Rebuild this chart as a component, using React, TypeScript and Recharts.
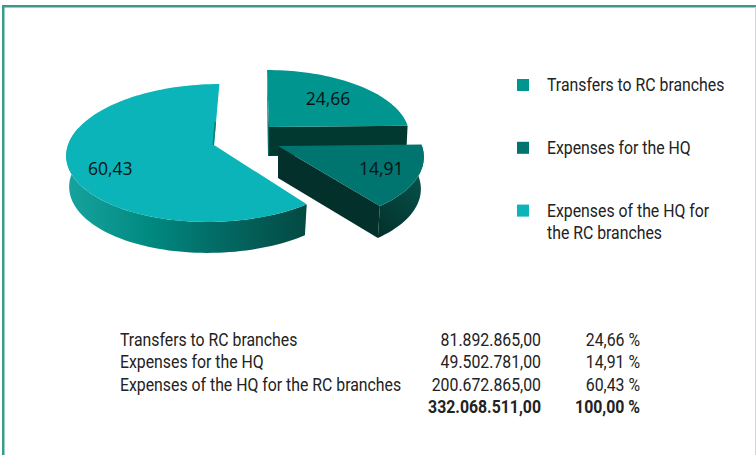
import React from "react";
import { PieChart, Pie, Legend } from "recharts";

const categories = ["Transfers to RC branches", "Expenses for the HQ", "Expenses of the HQ for the RC branches"];
const amounts = [81892865, 49502781, 200672865];
const amountLabels = ["81.892.865,00", "49.502.781,00", "200.672.865,00"];
const shares = ["24,66", "14,91", "60,43"];
const totalLabel = "332.068.511,00";
const totalShare = "100,00";
const colors = ["#00958f", "#00746e", "#0ab4b9"];

const W = 756;
const H = 455;
const FONT = "Roboto, sans-serif";
const INK = "#222222";
const PERSP = 0.116;
const SQUEEZE = 0.88;

// Per-slice projection of the flat pie into the tilted view
const views = [
  { dx: 55, dy: -18, rx: 139, ry: 63.6, shear: 2.2, depth: 29, labelR: 0.65, labelDy: 0 },
  { dx: 64, dy: 1, rx: 144, ry: 68.7, shear: 6, depth: 32, labelR: 0.75, labelDy: 0 },
  { dx: 0, dy: 0, rx: 146, ry: 68, shear: -6, depth: 31, labelR: 0.72, labelDy: 8 },
];

const rad = (d: number) => (d * Math.PI) / 180;

function project(v: (typeof views)[number], cx: number, cy: number, theta: number, r = 1) {
  const a = rad(theta);
  const u = r * Math.sin(a);
  const w = -r * Math.cos(a);
  const k = 1 - PERSP * w;
  return { x: cx + v.dx + (v.rx * u + v.shear * w) / k, y: cy + v.dy + (v.ry * w) / k };
}

const down = (p: { x: number; y: number }, d: number, ax: number, shrink = 0.98) => ({
  x: ax + (p.x - ax) * shrink,
  y: p.y + d,
});

const toPath = (pts: { x: number; y: number }[]) =>
  pts.map((p, i) => `${i ? "L" : "M"}${p.x.toFixed(2)} ${p.y.toFixed(2)}`).join("") + "Z";

function arc(v: any, cx: number, cy: number, t0: number, t1: number) {
  const n = Math.max(2, Math.ceil(Math.abs(t1 - t0) / 2));
  const out = [];
  for (let i = 0; i <= n; i++) out.push(project(v, cx, cy, t0 + ((t1 - t0) * i) / n));
  return out;
}

function Slice(props: any) {
  const { cx, cy, startAngle, endAngle, fill, index } = props;
  const v = views[index];
  const t0 = 90 - startAngle;
  const t1 = 90 - endAngle;
  const apex = project(v, cx, cy, 0, 0);
  const top = toPath([apex, ...arc(v, cx, cy, t0, t1)]);
  const rimStart = project(v, cx, cy, t0);
  const rimEnd = project(v, cx, cy, t1);
  const apexLow = { x: apex.x, y: apex.y + v.depth };

  if (index === 0) {
    const low = down(rimEnd, v.depth, apex.x, 0.99);
    return (
      <g>
        <path d={toPath([rimStart, apex, apexLow, { x: apex.x - 1, y: apexLow.y }, { x: apex.x - 1.5, y: apex.y }])} fill="#0a6c66" />
        <path d={toPath([apex, rimEnd, low, apexLow])} fill="#01382f" />
        <path d={top} fill={fill} />
      </g>
    );
  }
  if (index === 1) {
    const rim = arc(v, cx, cy, t0, t1);
    const rimLow = rim.map((p) => down(p, v.depth, apex.x)).reverse();
    return (
      <g>
        <defs>
          <linearGradient id="outerB" gradientUnits="userSpaceOnUse" x1="425" y1="170" x2="375" y2="235">
            <stop offset="0" stopColor="#07544e" />
            <stop offset="1" stopColor="#03302a" />
          </linearGradient>
        </defs>
        <path d={toPath([...rim, ...rimLow])} fill="url(#outerB)" />
        <path d={toPath([apex, rimEnd, down(rimEnd, v.depth, apex.x), apexLow])} fill="#03302a" />
        <path d={top} fill={fill} />
      </g>
    );
  }
  const rim = arc(v, cx, cy, t0, 285);
  const rimLow = rim.map((p) => down(p, v.depth, apex.x)).reverse();
  const edge = project(v, cx, cy, t1, 0.35);
  return (
    <g>
      <defs>
        <linearGradient id="outerC" gradientUnits="userSpaceOnUse" x1="67" y1="0" x2="305" y2="0">
          <stop offset="0" stopColor="#17a39e" />
          <stop offset="0.35" stopColor="#008980" />
          <stop offset="0.62" stopColor="#036c66" />
          <stop offset="1" stopColor="#034a44" />
        </linearGradient>
      </defs>
      <path d={toPath([...rim, ...rimLow])} fill="url(#outerC)" />
      <path d={top} fill={fill} />
      <path d={toPath([edge, apex, { x: apex.x - 1.5, y: apex.y }, { x: edge.x - 1.5, y: edge.y }])} fill="#057d78" />
    </g>
  );
}

function renderLabel(props: any) {
  const { cx, cy, midAngle, index } = props;
  const v = views[index];
  const p = project(v, cx, cy, 90 - midAngle, v.labelR);
  return (
    <text x={p.x} y={p.y + v.labelDy} dy="0.35em" textAnchor="middle" fontFamily="'Open Sans', sans-serif" fontSize={17.5} fill="#081212">
      {shares[index]}
    </text>
  );
}

function wrap(s: string, max: number) {
  const lines: string[] = [];
  let cur = "";
  for (const w of s.split(" ")) {
    if (cur && (cur + " " + w).length > max) {
      lines.push(cur);
      cur = w;
    } else cur = cur ? cur + " " + w : w;
  }
  lines.push(cur);
  return lines;
}

function Cond({ x, y, anchor = "start", bold = false, size = 18, children }: any) {
  return (
    <text
      transform={`translate(${x} ${y}) scale(${SQUEEZE} 1)`}
      textAnchor={anchor}
      fontFamily={FONT}
      fontSize={size}
      fontWeight={bold ? 700 : 400}
      fill={INK}
    >
      {children}
    </text>
  );
}

function LegendBox({ payload }: any) {
  const items = categories
    .map((c) => (payload ?? []).find((it: any) => it.value === c))
    .filter(Boolean);
  return (
    <svg width={W} height={H} style={{ display: "block" }}>
      {items.map((it: any, i: number) => {
        const y = 79 + i * 62.8;
        return (
          <g key={i}>
            <rect x={517} y={y} width={12} height={12} fill={it.color} />
            {wrap(String(it.value), 24).map((l, j) => (
              <Cond key={j} x={547} y={y + 12 + j * 22}>
                {l}
              </Cond>
            ))}
          </g>
        );
      })}
    </svg>
  );
}

const pieData = categories.map((name, i) => ({ name, value: amounts[i], fill: colors[i] }));

export default function App() {
  return (
    <div style={{ position: "absolute", left: 0, top: 0, width: W, height: H, overflow: "hidden", background: "#fff" }}>
      <PieChart width={W} height={H} margin={{ top: 0, right: 0, bottom: 0, left: 0 }}>
        <rect x={2} y={5} width={2.5} height={H} fill="#3c9a8c" />
        <rect x={2} y={5} width={W} height={2.5} fill="#3c9a8c" />
        <rect x={755} y={7} width={1} height={H} fill="#cfd8d6" />
        <Pie
          data={pieData}
          dataKey="value"
          nameKey="name"
          cx={214}
          cy={145}
          outerRadius={100}
          startAngle={90}
          endAngle={-270}
          stroke="none"
          isAnimationActive={false}
          labelLine={false}
          label={renderLabel}
          shape={Slice}
          inactiveShape={Slice}
          activeShape={Slice}
        />
        {categories.map((c, i) => (
          <g key={c}>
            <Cond x={120} y={346 + i * 22.4}>{c}</Cond>
            <Cond x={541} y={346 + i * 22.4} anchor="end">{amountLabels[i]}</Cond>
            <Cond x={640} y={346 + i * 22.4} anchor="end">{shares[i] + " %"}</Cond>
          </g>
        ))}
        <Cond x={541} y={413} anchor="end" bold>{totalLabel}</Cond>
        <Cond x={640} y={413} anchor="end" bold>{totalShare + " %"}</Cond>
        <Legend content={LegendBox} wrapperStyle={{ position: "absolute", left: 0, top: 0, width: W, height: H, pointerEvents: "none" }} />
      </PieChart>
    </div>
  );
}
